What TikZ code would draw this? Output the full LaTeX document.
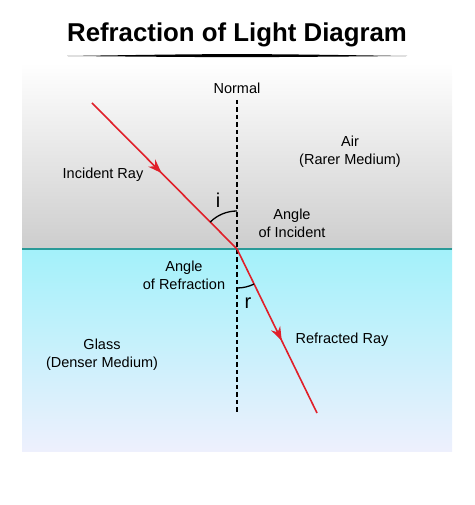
\documentclass[tikz,border=0pt]{standalone}
\usepackage{fontspec}
\setmainfont{Liberation Sans}
\usetikzlibrary{arrows.meta,decorations.markings}
\definecolor{rayred}{HTML}{E0202A}
\definecolor{airgray}{HTML}{CDCDCD}
\definecolor{glasscyan}{HTML}{A3F1FA}
\definecolor{glasslow}{HTML}{EEF0FD}
\definecolor{surface}{HTML}{2A9A98}
\begin{document}
\begin{tikzpicture}[x=1pt,y=1pt,
        lbl/.style={font=\fontsize{14.5}{18}\selectfont,align=center,inner sep=0pt},
        ray/.style={rayred,line width=1.6pt,postaction={decorate},
            decoration={markings,mark=at position #1 with {\arrow{Stealth[length=14pt,width=10pt]}}}},
        anglearc/.style={line width=1.3pt}]
\useasboundingbox (0,0) rectangle (474,505);

% media
\shade[top color=white,bottom color=airgray] (22,256) rectangle (452,442);
\shade[top color=glasscyan,bottom color=glasslow] (22,53) rectangle (452,256);
\draw[surface,line width=1.5pt] (22,256) -- (452,256);

% title
\node[font=\bfseries\fontsize{25.8}{30}\selectfont] (title) at (237,470) {Refraction of Light Diagram};
\fill (67,449) .. controls (237,451.5) .. (407,449) .. controls (237,447.5) .. cycle;

\coordinate (O) at (237,256);
\coordinate (ntop) at (237,405);
\coordinate (nbot) at (237,92);
\coordinate (inc) at (92,402);
\coordinate (refr) at (317,92);

% normal
\draw[dashed,line width=1.4pt,dash pattern=on 4.5pt off 3pt] (ntop) -- (nbot);
\node[lbl] (normal) at (237,417) {Normal};

% rays
\draw[ray=0.48] (inc) -- (O);
\draw[ray=0.56] (O) -- (refr);

% angles
\draw[anglearc] ([shift={(90:38)}]O) arc[start angle=90,end angle=135,radius=38];
\draw[anglearc] ([shift={(-90:39)}]O) arc[start angle=-90,end angle=-64,radius=39];
\node[font=\fontsize{20}{20}\selectfont] (i) at (218,305) {i};
\node[font=\fontsize{20}{20}\selectfont] (r) at (248,202) {r};

% labels
\node[lbl] (incray) at (103,330) {Incident Ray};
\node[lbl] (air) at (350,353) {Air\\(Rarer Medium)};
\node[lbl] (anginc) at (292,282) {Angle\\of Incident};
\node[lbl] (angref) at (184,230) {Angle\\of Refraction};
\node[lbl] (glass) at (102,150) {Glass\\(Denser Medium)};
\node[lbl] (refray) at (342,165) {Refracted Ray};
\end{tikzpicture}
\end{document}
